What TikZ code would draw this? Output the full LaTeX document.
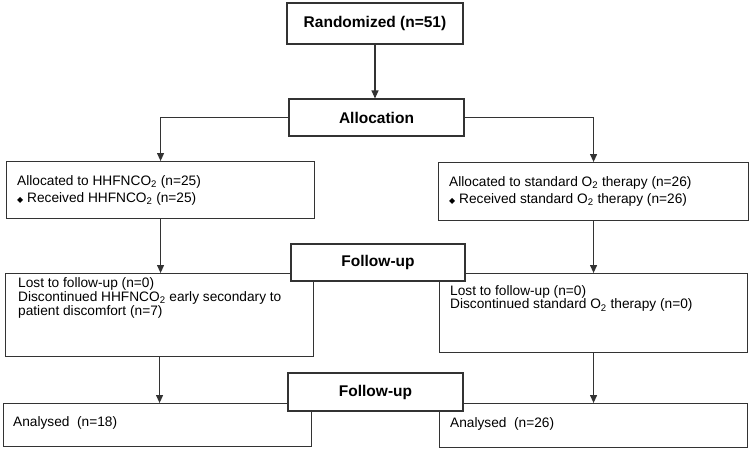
\documentclass[tikz,border=0pt]{standalone}
\usepackage{fontspec}
\setmainfont{Liberation Sans}
\newfontfamily\symfont{DejaVu Sans}
\usetikzlibrary{arrows.meta,positioning}
\newcommand{\bul}{{\symfont\fontsize{8}{8}\selectfont ◆}}
\begin{document}
\begin{tikzpicture}[x=1pt,y=-1pt,
        box/.style={draw=black!80, line width=1.1pt, fill=white, inner sep=0pt, anchor=north west},
        headbox/.style={box, anchor=center, font=\fontsize{15.5}{17}\selectfont\bfseries},
        txt/.style={anchor=north west, align=left, inner sep=0pt, font=\fontsize{13.7}{17}\selectfont},
        arrow/.style={draw=black!80, line width=1.1pt, -{Triangle[length=8pt,width=7pt]}}]
    \useasboundingbox (0,0) rectangle (750,450);
    % top of the chart
    \node[headbox, minimum width=176pt, minimum height=41pt] (rand) at (375,23.5) {Randomized (n=51)};
    \node[headbox, minimum width=175pt, minimum height=37pt] (alloc) at (376.5,117.5) {Allocation};
    \draw[arrow] (rand.south) -- (rand.south |- alloc.north);

    % allocation boxes
    \node[box, minimum width=308pt, minimum height=57pt] (allocL) at (6,161) {};
    \node[box, minimum width=310pt, minimum height=58pt] (allocR) at (438,162) {};
    \node[txt] (allocLtext) at (17,175) {Allocated to HHFNCO\textsubscript{2} (n=25)\\\bul\ Received HHFNCO\textsubscript{2} (n=25)};
    \node[txt] (allocRtext) at (449,176) {Allocated to standard O\textsubscript{2} therapy (n=26)\\\bul\ Received standard O\textsubscript{2} therapy (n=26)};
    \draw[arrow] (alloc.west) -| (allocL.north);
    \draw[arrow] (alloc.east) -| (allocR.north);

    % follow-up boxes
    \node[box, minimum width=308pt, minimum height=83pt] (lossL) at (5,273) {};
    \node[box, minimum width=308pt, minimum height=79pt] (lossR) at (439,273) {};
    \node[txt, font=\fontsize{13.7}{14.3}\selectfont] (lossLtext) at (18,277) {Lost to follow-up (n=0)\\Discontinued HHFNCO\textsubscript{2} early secondary to\\patient discomfort (n=7)};
    \node[txt, font=\fontsize{13.7}{13.8}\selectfont] (lossRtext) at (450,285) {Lost to follow-up (n=0)\\Discontinued standard O\textsubscript{2} therapy (n=0)};
    \draw[arrow] (allocL.south) -- (allocL.south |- lossL.north);
    \draw[arrow] (allocR.south) -- (allocR.south |- lossR.north);
    \node[headbox, minimum width=174pt, minimum height=37pt] (follow1) at (378,262.5) {Follow-up};

    % analysed boxes
    \node[box, minimum width=308pt, minimum height=43pt] (anaL) at (3,403) {};
    \node[box, minimum width=308pt, minimum height=44pt] (anaR) at (439,403) {};
    \node[txt] (anaLtext) at (13,416) {Analysed\ \ (n=18)};
    \node[txt] (anaRtext) at (450,417) {Analysed\ \ (n=26)};
    \draw[arrow] (lossL.south) -- (lossL.south |- anaL.north);
    \draw[arrow] (lossR.south) -- (lossR.south |- anaR.north);
    \node[headbox, minimum width=175pt, minimum height=38pt] (follow2) at (375.5,392) {Follow-up};
\end{tikzpicture}
\end{document}
